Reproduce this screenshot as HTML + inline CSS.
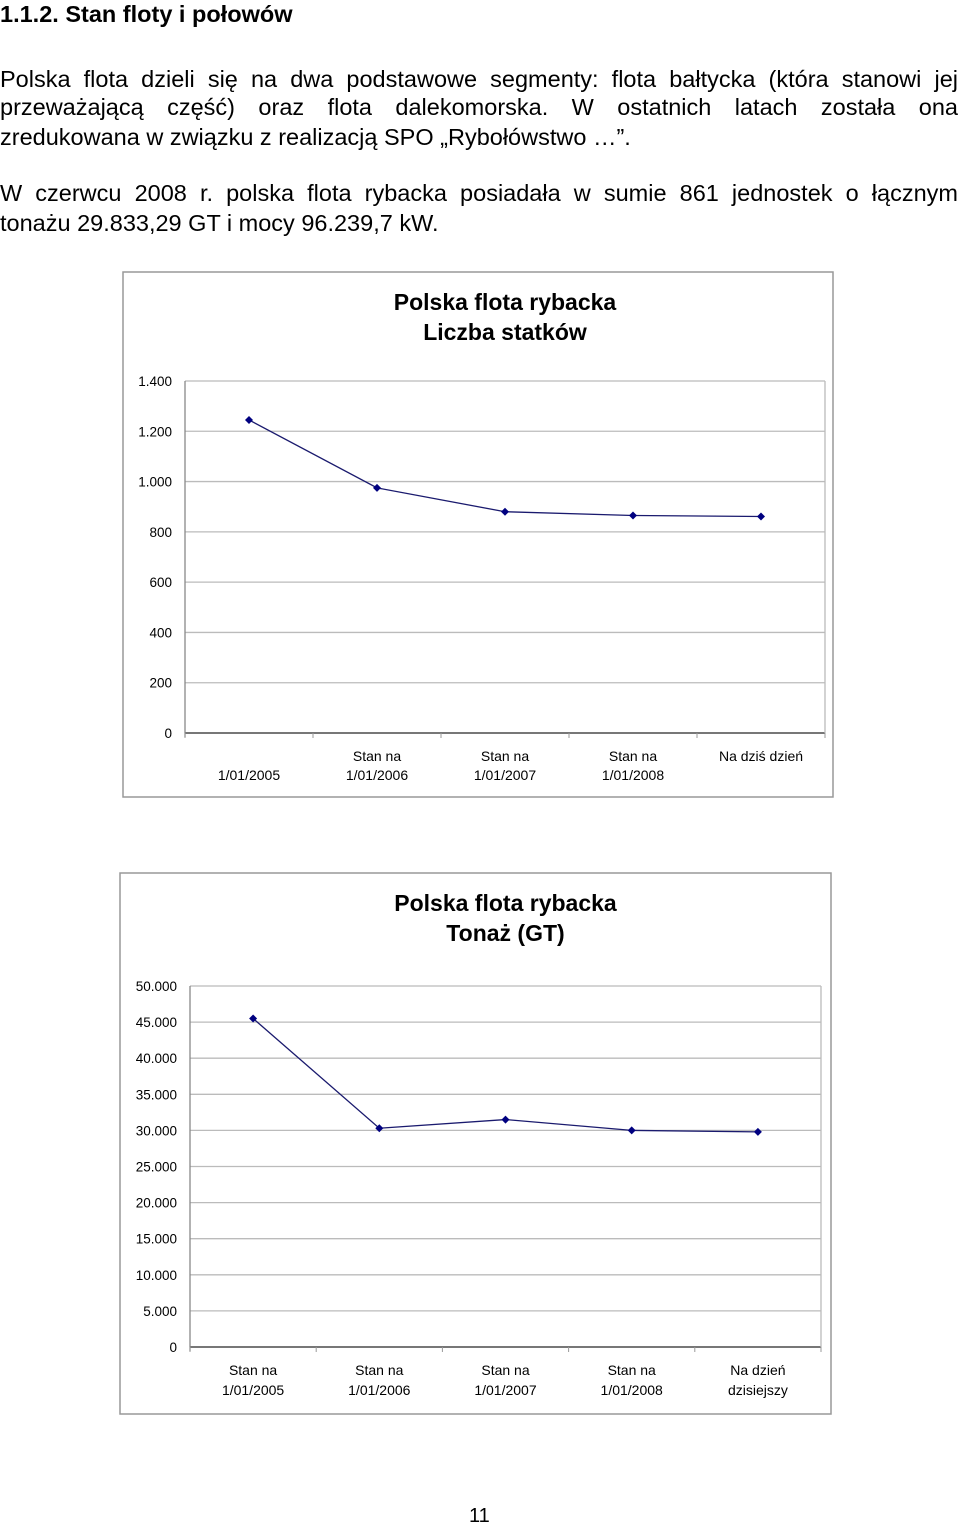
<!DOCTYPE html>
<html><head><meta charset="utf-8">
<style>
body{margin:0;background:#fff;width:960px;height:1525px;position:relative;font-family:"Liberation Sans",sans-serif;color:#000;overflow:hidden}
.t{position:absolute;left:0;white-space:nowrap;font-size:23.5px;line-height:29px}
.j{position:absolute;left:0;width:958px;font-size:23.5px;text-align:justify;text-align-last:justify;white-space:nowrap}
svg{position:absolute;left:0;top:0}
</style></head><body>
<div class="t" style="top:0;font-weight:bold">1.1.2. Stan floty i połowów</div>
<div class="j" style="top:66px">Polska flota dzieli się na dwa podstawowe segmenty: flota bałtycka (która stanowi jej</div>
<div class="j" style="top:94px">przeważającą część) oraz flota dalekomorska. W ostatnich latach została ona</div>
<div class="t" style="top:123px">zredukowana w związku z realizacją SPO „Rybołówstwo …”.</div>
<div class="j" style="top:180px">W czerwcu 2008 r. polska flota rybacka posiadała w sumie 861 jednostek o łącznym</div>
<div class="t" style="top:209px">tonażu 29.833,29 GT i mocy 96.239,7 kW.</div>
<div class="t" style="top:1502px;left:469px;font-size:20px">11</div>
<svg id="s" width="960" height="1525"></svg>
<script>
const cats1=[["","1/01/2005"],["Stan na","1/01/2006"],["Stan na","1/01/2007"],["Stan na","1/01/2008"],["Na dziś dzień",""]];
const vals1=[1245,975,880,865,861];
const ticks1=["0","200","400","600","800","1.000","1.200","1.400"];
const cats2=[["Stan na","1/01/2005"],["Stan na","1/01/2006"],["Stan na","1/01/2007"],["Stan na","1/01/2008"],["Na dzień","dzisiejszy"]];
const vals2=[45500,30300,31500,30000,29800];
const ticks2=["0","5.000","10.000","15.000","20.000","25.000","30.000","35.000","40.000","45.000","50.000"];
const NS="http://www.w3.org/2000/svg",svg=document.getElementById('s');
function mk(t,a,txt){const e=document.createElementNS(NS,t);for(const k in a)e.setAttribute(k,a[k]);if(txt!==undefined)e.textContent=txt;svg.appendChild(e);return e;}
function chart(c){
  let e=mk('rect',{x:c.fx,y:c.fy,width:c.fw,height:c.fh,fill:'#fff',stroke:'#999','stroke-width':1.5});
  
  
  c.title.forEach((t,i)=>{let el=mk('text',{x:(c.l+c.r)/2,y:c.ty+i*30,'text-anchor':'middle','font-size':23,'font-weight':'bold'},t);
    
    });
  const max=c.max,n=c.ticks.length-1;
  const Y=v=>c.b-(v/max)*(c.b-c.t);
  const w=(c.r-c.l)/c.cats.length,X=i=>c.l+w*(i+0.5);
  c.ticks.forEach((lab,i)=>{const v=max*i/n,y=Y(v);
    let g=mk('line',{x1:c.l,x2:c.r,y1:y,y2:y,stroke:i==0?'#777':'#bbb','stroke-width':i==0?2:1.3});
    
    
    let t=mk('text',{x:c.l-13,y:y+5,'text-anchor':'end','font-size':13.5},lab);
    
    });
  mk('line',{x1:c.l,x2:c.l,y1:c.t,y2:c.b+4,stroke:'#888','stroke-width':1.3});
  mk('line',{x1:c.r,x2:c.r,y1:c.t,y2:c.b,stroke:'#bbb','stroke-width':1.3});
  for(let i=0;i<=c.cats.length;i++)mk('line',{x1:c.l+w*i,x2:c.l+w*i,y1:c.b,y2:c.b+5,stroke:'#999'});
  c.cats.forEach((cl,i)=>cl.forEach((s,j)=>{if(!s)return;let t=mk('text',{x:X(i),y:c.b+c.ly[j],'text-anchor':'middle','font-size':14},s);
    
    }));
  let p=mk('polyline',{points:c.vals.map((v,i)=>X(i)+','+Y(v)).join(' '),fill:'none',stroke:'#1a1a6e','stroke-width':1.3});
  
  
  c.vals.forEach((v,i)=>{let m=mk('path',{d:`M${X(i)},${Y(v)-4}l4,4l-4,4l-4,-4z`,fill:'#000080'});
    
    });
}
chart({name:'vessel-count-chart',fx:123,fy:272,fw:710,fh:525,l:185,r:825,t:381,b:733,max:1400,ticks:ticks1,cats:cats1,vals:vals1,title:['Polska flota rybacka','Liczba statków'],ty:310,ly:[28,47]});
chart({name:'tonnage-chart',fx:120,fy:873,fw:711,fh:541,l:190,r:821,t:986,b:1347,max:50000,ticks:ticks2,cats:cats2,vals:vals2,title:['Polska flota rybacka','Tonaż (GT)'],ty:911,ly:[28,48]});
</script>
</body></html>
